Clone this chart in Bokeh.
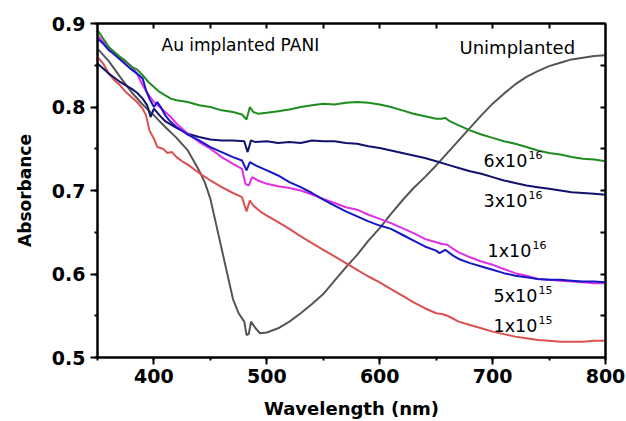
from bokeh.plotting import figure
from bokeh.models import Range1d, LinearAxis, SingleIntervalTicker, FixedTicker
from bokeh.core.properties import value
from bokeh.embed import file_html
from bokeh.resources import INLINE

# ---- data ----
wl_unimp = [350, 360, 370, 380, 390, 400, 410, 420, 430, 440, 445, 450, 455, 460, 465, 470, 475, 480, 482, 484, 486, 490, 494, 500,
            510, 520, 530, 540, 550, 560, 570, 580, 590, 600, 610, 620, 630, 640, 650, 660, 670, 680, 690, 700, 710,
            720, 730, 740, 750, 760, 770, 780, 790, 800]
ab_unimp = [0.870, 0.855, 0.836, 0.818, 0.803, 0.790, 0.776, 0.763, 0.748, 0.724, 0.710, 0.690, 0.660, 0.630, 0.600, 0.570, 0.553,
            0.543, 0.527, 0.528, 0.543, 0.535, 0.529, 0.530, 0.535, 0.543, 0.553, 0.564, 0.576, 0.592, 0.608, 0.623, 0.640,
            0.655, 0.672, 0.688, 0.703, 0.716, 0.730, 0.745, 0.760, 0.775, 0.790, 0.804, 0.816, 0.827, 0.836, 0.843,
            0.849, 0.853, 0.857, 0.859, 0.861, 0.862]

wl_6e16 = [350, 355, 360, 365, 370, 375, 380, 385, 390, 395, 400, 405, 410, 415, 420, 430, 440, 450, 460, 470, 478, 482, 485,
           488, 492, 500, 510, 520, 530, 540, 550, 560, 570, 580, 590, 600, 610, 620, 630, 640, 650, 655, 658, 662, 670,
           680, 690, 700, 710, 720, 730, 740, 750, 760, 770, 780, 790, 800]
ab_6e16 = [0.892, 0.882, 0.872, 0.866, 0.860, 0.855, 0.848, 0.845, 0.838, 0.830, 0.824, 0.818, 0.814, 0.810, 0.808, 0.806,
           0.802, 0.800, 0.796, 0.794, 0.791, 0.785, 0.800, 0.794, 0.792, 0.793, 0.795, 0.797, 0.800, 0.802, 0.804, 0.803,
           0.805, 0.806, 0.805, 0.803, 0.800, 0.796, 0.792, 0.789, 0.786, 0.786, 0.787, 0.783, 0.778, 0.772, 0.767, 0.763,
           0.759, 0.756, 0.752, 0.748, 0.745, 0.743, 0.740, 0.738, 0.737, 0.735]

wl_3e16 = [350, 355, 360, 365, 370, 375, 380, 385, 390, 394, 397, 400, 405, 410, 415, 420, 430, 440, 450, 460, 470, 480, 483,
           486, 490, 500, 510, 520, 530, 540, 550, 560, 570, 580, 590, 600, 610, 620, 630, 640, 650, 660, 670, 680, 690,
           700, 710, 720, 730, 740, 750, 760, 770, 780, 790, 800]
ab_3e16 = [0.852, 0.846, 0.840, 0.835, 0.830, 0.826, 0.822, 0.817, 0.810, 0.802, 0.788, 0.798, 0.790, 0.783, 0.779, 0.775,
           0.768, 0.764, 0.761, 0.760, 0.760, 0.759, 0.746, 0.760, 0.758, 0.759, 0.757, 0.758, 0.757, 0.760, 0.759, 0.759,
           0.757, 0.756, 0.753, 0.751, 0.748, 0.745, 0.742, 0.739, 0.735, 0.731, 0.727, 0.723, 0.720, 0.716, 0.712, 0.709,
           0.706, 0.704, 0.702, 0.700, 0.698, 0.697, 0.696, 0.695]

wl_1e16 = [350, 355, 360, 365, 370, 375, 380, 385, 390, 395, 400, 405, 410, 415, 420, 430, 440, 450, 460, 470, 478, 481, 484,
           487, 492, 500, 510, 520, 530, 540, 550, 560, 570, 580, 590, 600, 610, 620, 630, 640, 650, 655, 660, 665, 670,
           680, 690, 700, 710, 720, 730, 740, 750, 760, 770, 780, 790, 800]
ab_1e16 = [0.886, 0.878, 0.870, 0.864, 0.859, 0.854, 0.849, 0.840, 0.826, 0.815, 0.806, 0.800, 0.794, 0.788, 0.780, 0.768,
           0.758, 0.750, 0.740, 0.732, 0.726, 0.708, 0.706, 0.716, 0.712, 0.708, 0.705, 0.703, 0.700, 0.695, 0.690, 0.685,
           0.680, 0.677, 0.671, 0.666, 0.661, 0.655, 0.649, 0.642, 0.638, 0.636, 0.635, 0.630, 0.626, 0.620, 0.615, 0.611,
           0.606, 0.601, 0.598, 0.594, 0.593, 0.592, 0.591, 0.590, 0.589, 0.589]

wl_5e15 = [350, 355, 360, 365, 370, 375, 380, 385, 390, 393, 396, 400, 403, 406, 410, 415, 420, 430, 440, 450, 460, 470, 478,
           482, 485, 490, 500, 510, 520, 530, 540, 550, 560, 570, 580, 590, 600, 610, 620, 630, 640, 650, 653, 658, 665,
           670, 680, 690, 700, 710, 720, 730, 740, 750, 760, 770, 780, 790, 800]
ab_5e15 = [0.882, 0.876, 0.868, 0.863, 0.857, 0.851, 0.845, 0.840, 0.834, 0.820, 0.810, 0.800, 0.806, 0.800, 0.790, 0.782,
           0.776, 0.767, 0.760, 0.752, 0.746, 0.740, 0.736, 0.724, 0.734, 0.730, 0.724, 0.718, 0.710, 0.704, 0.697, 0.689,
           0.682, 0.675, 0.669, 0.663, 0.658, 0.654, 0.647, 0.640, 0.633, 0.628, 0.625, 0.629, 0.622, 0.618, 0.613, 0.609,
           0.605, 0.601, 0.598, 0.596, 0.594, 0.593, 0.593, 0.592, 0.591, 0.591, 0.590]

wl_1e15 = [350, 355, 360, 365, 370, 375, 380, 385, 390, 393, 396, 400, 403, 408, 412, 416, 420, 425, 430, 440, 450, 460, 470,
           478, 482, 485, 488, 495, 500, 510, 520, 530, 540, 550, 560, 570, 580, 590, 600, 610, 620, 630, 640, 650, 655,
           660, 670, 680, 690, 700, 710, 720, 730, 740, 750, 760, 770, 780, 790, 800]
ab_1e15 = [0.860, 0.852, 0.840, 0.832, 0.826, 0.818, 0.812, 0.806, 0.798, 0.790, 0.772, 0.762, 0.752, 0.750, 0.745, 0.746,
           0.740, 0.735, 0.731, 0.721, 0.712, 0.704, 0.697, 0.692, 0.675, 0.688, 0.682, 0.674, 0.670, 0.662, 0.654, 0.645,
           0.637, 0.629, 0.621, 0.613, 0.605, 0.597, 0.590, 0.582, 0.574, 0.566, 0.559, 0.553, 0.552, 0.550, 0.543, 0.539,
           0.535, 0.531, 0.528, 0.525, 0.523, 0.521, 0.520, 0.519, 0.519, 0.519, 0.520, 0.520]

series_colors = {"unimp": "#555555", "6e16": "#1e8c1e", "3e16": "#12126e", "1e16": "#e030e6",
                 "5e15": "#1616c8", "1e15": "#dc4f4f"}

# tick positions of the inward (top / right) ticks
top_ticks = [400, 450, 500, 550, 600, 650, 700, 750]
right_ticks = [0.55, 0.6, 0.65, 0.7, 0.75, 0.8, 0.85]

# annotation labels (base, exponent, x, y in data units)
dose_base = ["6x10", "3x10", "1x10", "5x10", "1x10"]
dose_exp = ["16", "16", "16", "15", "15"]
dose_x = [692, 692, 695.5, 700.8, 700.8]
dose_y = [0.7353, 0.688, 0.628, 0.574, 0.538]

FONT = "DejaVu Sans"

p = figure(width=626, height=421, output_backend="svg", toolbar_location=None,
           x_range=Range1d(350, 800), y_range=Range1d(0.5, 0.9),
           min_border_left=97, min_border_top=23, min_border_right=21, min_border_bottom=64)
p.grid.visible = False
p.background_fill_color = "white"
p.border_fill_color = "white"
p.outline_line_color = "black"
p.outline_line_width = 2

p.xaxis.ticker = SingleIntervalTicker(interval=100, num_minor_ticks=2)
p.yaxis.ticker = SingleIntervalTicker(interval=0.1, num_minor_ticks=2)
for ax in (p.xaxis, p.yaxis):
    ax.axis_line_width = 2
    ax.major_tick_line_width = 2
    ax.minor_tick_line_width = 2
    ax.major_tick_in = 0
    ax.major_tick_out = 7
    ax.minor_tick_in = 0
    ax.minor_tick_out = 3
    ax.major_label_text_font = FONT
    ax.major_label_text_font_style = "bold"
    ax.major_label_text_font_size = "19px"
    ax.major_label_text_color = "black"
    ax.axis_label_text_font = FONT
    ax.axis_label_text_font_style = "bold"
    ax.axis_label_text_color = "black"
p.xaxis.axis_label = "Wavelength (nm)"
p.xaxis.axis_label_text_font_size = "18px"
p.xaxis.axis_label_standoff = 12
p.xaxis.major_label_standoff = 4
p.yaxis.axis_label = "Absorbance"
p.yaxis.axis_label_text_font_size = "17px"
p.yaxis.axis_label_standoff = 14
p.yaxis.major_label_standoff = 5
p.yaxis.formatter.use_scientific = False

# inward ticks on top and right (minor-only tickers: no labels)
top = LinearAxis(ticker=FixedTicker(ticks=[], minor_ticks=top_ticks))
right = LinearAxis(ticker=FixedTicker(ticks=[], minor_ticks=right_ticks))
for ax in (top, right):
    ax.axis_line_width = 2
    ax.major_tick_in = 0
    ax.major_tick_out = 0
    ax.minor_tick_in = 5
    ax.minor_tick_out = 0
    ax.minor_tick_line_width = 2
    ax.major_label_standoff = 0
p.add_layout(top, "above")
p.add_layout(right, "right")

# curves
p.line(wl_unimp, ab_unimp, line_color=series_colors["unimp"], line_width=2)
p.line(wl_1e15, ab_1e15, line_color=series_colors["1e15"], line_width=2)
p.line(wl_3e16, ab_3e16, line_color=series_colors["3e16"], line_width=2)
p.line(wl_1e16, ab_1e16, line_color=series_colors["1e16"], line_width=2)
p.line(wl_5e15, ab_5e15, line_color=series_colors["5e15"], line_width=2)
p.line(wl_6e16, ab_6e16, line_color=series_colors["6e16"], line_width=2)

# annotations
p.text(x=[406.7], y=[0.8737], text=["Au implanted PANI"], text_font=value(FONT),
       text_font_size="17px", text_baseline="middle", text_align="left", text_color="black")
p.text(x=[670.7], y=[0.871], text=["Unimplanted"], text_font=value(FONT),
       text_font_size="18px", text_baseline="middle", text_align="left", text_color="black")
p.text(x=dose_x, y=dose_y, text=dose_base, text_font=value(FONT), text_font_size="17.5px",
       text_baseline="middle", text_align="left", text_color="black")
p.text(x=dose_x, y=dose_y, text=dose_exp, text_font=value(FONT), text_font_size="11px",
       text_baseline="middle", text_align="left", text_color="black", x_offset=45, y_offset=-6)

open("out.html", "w").write(file_html(p, INLINE))
